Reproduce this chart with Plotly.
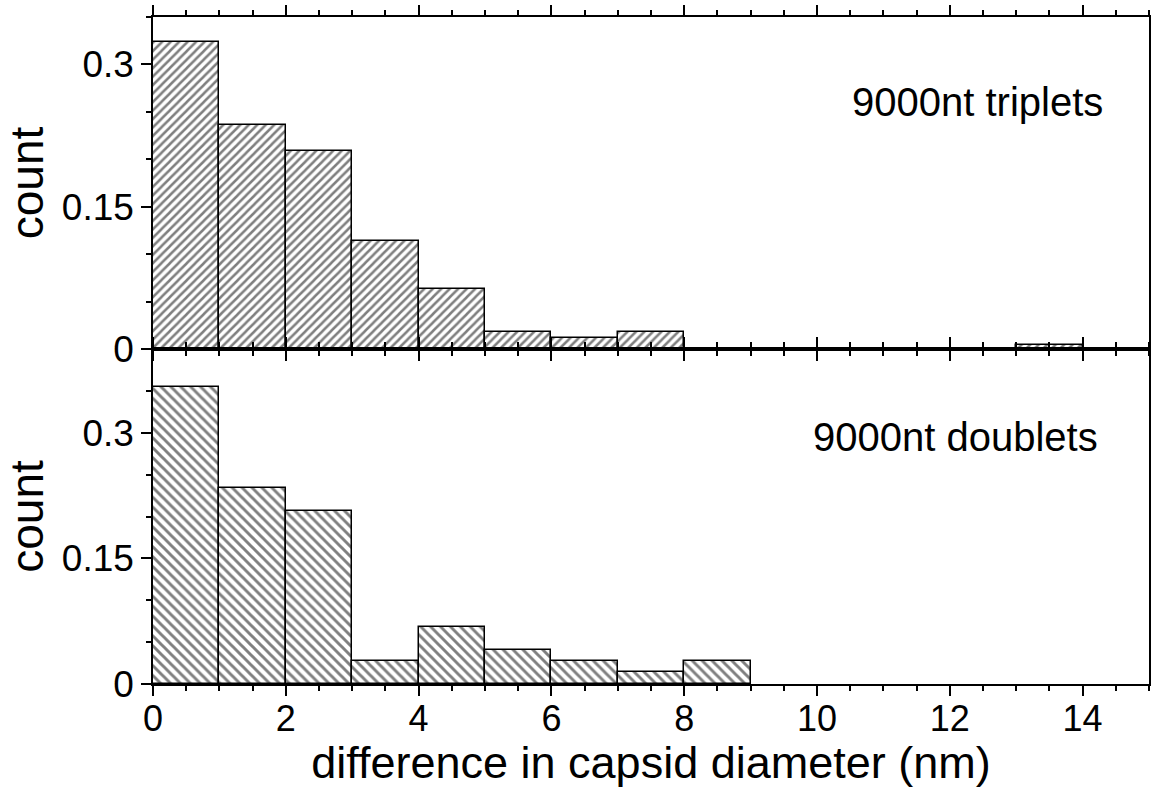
import plotly.graph_objects as go

# Histogram bins (nm), width 1
bin_left = [0, 1, 2, 3, 4, 5, 6, 7, 8, 9, 10, 11, 12, 13]
bin_width = 1.0

# Normalised counts per bin
triplets = [0.324, 0.236, 0.209, 0.114, 0.063, 0.018, 0.012, 0.018, 0, 0, 0, 0, 0, 0.004]
doublets = [0.355, 0.234, 0.206, 0.027, 0.068, 0.041, 0.027, 0.014, 0.027, 0, 0, 0, 0, 0]

x_ticks = [0, 2, 4, 6, 8, 10, 12, 14]
y_ticks = [0, 0.15, 0.3]
y_tick_text = ["0", "0.15", "0.3"]

labels = ["9000nt triplets", "9000nt doublets"]

FONT = "Liberation Sans, Helvetica, Arial, sans-serif"


def nonempty(values):
    """Centres and heights of the bins that hold something."""
    xs = [b + bin_width / 2 for b, v in zip(bin_left, values) if v > 0]
    ys = [v for v in values if v > 0]
    return xs, ys


fig = go.Figure()

for values, shape, size, xa, ya in [
    (triplets, "/", 6, "x", "y"),
    (doublets, "\\", 7, "x2", "y2"),
]:
    xs, ys = nonempty(values)
    fig.add_trace(go.Bar(
        x=xs, y=ys, width=bin_width, xaxis=xa, yaxis=ya,
        marker=dict(color="white", line=dict(color="black", width=1.5),
                    pattern=dict(shape=shape, size=size, solidity=0.42,
                                 fgcolor="black", bgcolor="white")),
        showlegend=False, hoverinfo="skip",
    ))

split = 0.5022

xcommon = dict(
    range=[0, 15], showgrid=False, zeroline=False,
    showline=True, linecolor="black", linewidth=1.5, mirror="ticks",
    ticks="outside", ticklen=10, tickwidth=1.5, tickcolor="black",
    tickvals=x_ticks,
    minor=dict(dtick=0.5, tick0=0, ticks="outside", ticklen=5,
               tickwidth=1.5, tickcolor="black", showgrid=False),
    tickfont=dict(family=FONT, size=36, color="black"),
)
ycommon = dict(
    showgrid=False, zeroline=False,
    showline=True, linecolor="black", linewidth=1.5, mirror=True,
    ticks="outside", ticklen=10, tickwidth=1.5, tickcolor="black",
    tickvals=y_ticks, ticktext=y_tick_text,
    minor=dict(dtick=0.05, tick0=0, ticks="outside", ticklen=5,
               tickwidth=1.5, tickcolor="black", showgrid=False),
    tickfont=dict(family=FONT, size=37, color="black"),
    title=dict(text="count", font=dict(family=FONT, size=46, color="black"),
               standoff=4),
)
yright = dict(
    showgrid=False, zeroline=False, showline=False, side="right",
    ticks="inside", ticklen=8, tickwidth=1.2, tickcolor="black",
    tickvals=y_ticks, showticklabels=False,
    minor=dict(dtick=0.05, tick0=0, ticks="inside", ticklen=4,
               tickwidth=1.2, tickcolor="black"),
)

fig.update_layout(
    width=1152, height=788,
    margin=dict(l=153, r=1, t=17, b=104),
    paper_bgcolor="white", plot_bgcolor="white",
    barmode="overlay", bargap=0,
    xaxis=dict(**xcommon, anchor="y", showticklabels=False),
    yaxis=dict(**ycommon, domain=[split, 1], range=[0, 0.35], anchor="x"),
    xaxis2=dict(**xcommon, anchor="y2", ticklabelstandoff=-8,
                title=dict(text="difference in capsid diameter (nm)",
                           font=dict(family=FONT, size=45, color="black"),
                           standoff=2)),
    yaxis2=dict(**ycommon, domain=[0, split], range=[0, 0.4], anchor="x2"),
    yaxis3=dict(**yright, overlaying="y", range=[0, 0.35], anchor="x"),
    yaxis4=dict(**yright, overlaying="y2", range=[0, 0.4], anchor="x2"),
    annotations=[
        dict(text=labels[0], xref="paper", yref="paper", x=0.956, y=0.8726,
             xanchor="right", yanchor="middle", showarrow=False,
             font=dict(family=FONT, size=40, color="black")),
        dict(text=labels[1], xref="paper", yref="paper", x=0.951, y=0.370,
             xanchor="right", yanchor="middle", showarrow=False,
             font=dict(family=FONT, size=40, color="black")),
    ],
)

fig.write_html("out.html")
